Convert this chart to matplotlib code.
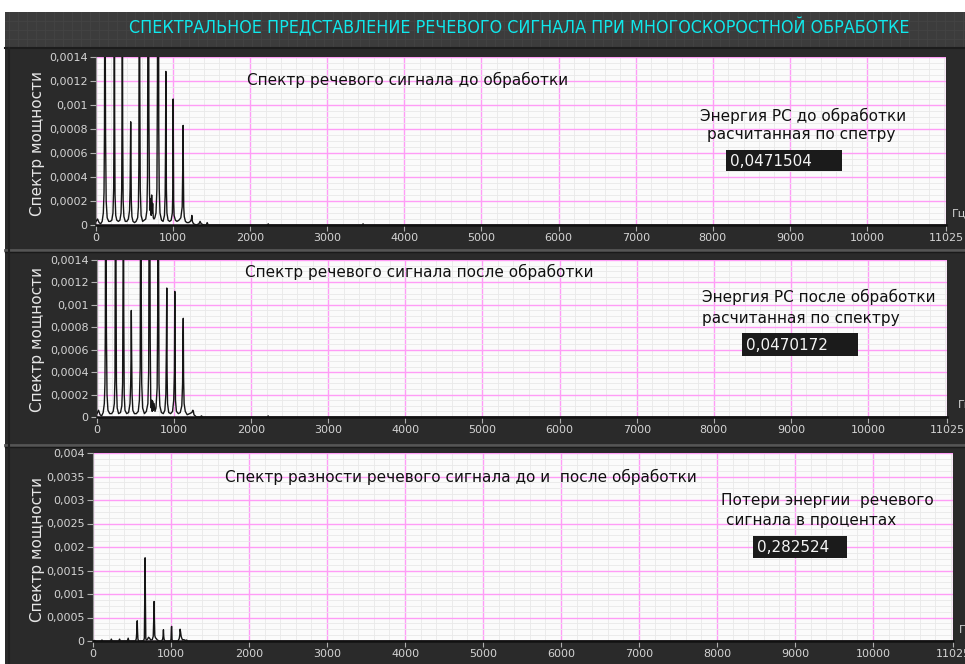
import matplotlib
matplotlib.use("Agg")
import matplotlib.pyplot as plt
from matplotlib.patches import Rectangle
from matplotlib.lines import Line2D
from matplotlib.ticker import MultipleLocator, FixedLocator, FuncFormatter

# ---------------- data ----------------
title_text = "СПЕКТРАЛЬНОЕ ПРЕДСТАВЛЕНИЕ РЕЧЕВОГО СИГНАЛА ПРИ МНОГОСКОРОСТНОЙ ОБРАБОТКЕ"
y_axis_label = "Спектр мощности"
x_unit = "Гц"
x_ticks = [0, 1000, 2000, 3000, 4000, 5000, 6000, 7000, 8000, 9000, 10000, 11025]
x_max = 11025

# power spectrum before processing (Hz, power)
freq_before = [0, 20, 40, 60, 80, 95, 104, 110, 114, 117, 120, 124, 132, 145, 165, 185,
               205, 220, 229, 234, 238, 242, 247, 256, 270, 290, 310, 325, 333, 338, 342,
               346, 352, 362, 380, 400, 420, 435, 442, 447, 450, 453, 458, 466, 480, 500,
               520, 540, 550, 556, 560, 564, 568, 574, 585, 605, 625, 645, 660, 668, 673,
               677, 681, 686, 694, 703, 710, 716, 722, 728, 735, 743, 752, 763, 778, 790,
               797, 801, 806, 810, 814, 820, 830, 850, 870, 888, 897, 902, 906, 909, 913,
               920, 935, 955, 975, 990, 997, 1001, 1004, 1007, 1013, 1030, 1050, 1075,
               1100, 1118, 1126, 1130, 1134, 1138, 1145, 1160, 1180, 1200, 1225, 1238,
               1243, 1250, 1265, 1300, 1335, 1350, 1365, 1400, 1430, 1442, 1455, 1520,
               2200, 2225, 2234, 2243, 2300, 3440, 3458, 3464, 3470, 3500, 11025]
power_before = [0.00003, 0.00005, 0.00002, 0.00001, 0.00003, 0.00010, 0.00027, 0.00080,
                0.0022, 0.0030, 0.0016, 0.00075, 0.00020, 0.00006, 0.00003, 0.00003,
                0.00004, 0.00010, 0.00030, 0.0009, 0.0030, 0.0009, 0.00025, 0.00008,
                0.00004, 0.00003, 0.00004, 0.00010, 0.00030, 0.00096, 0.0026, 0.0008,
                0.00020, 0.00007, 0.00003, 0.00003, 0.00005, 0.00012, 0.00030, 0.00060,
                0.00086, 0.00057, 0.00020, 0.00007, 0.00003, 0.00002, 0.00003, 0.00006,
                0.00015, 0.00050, 0.0020, 0.0032, 0.0012, 0.00030, 0.00008, 0.00003,
                0.00004, 0.00005, 0.00012, 0.00040, 0.0018, 0.0035, 0.0028, 0.0009,
                0.00026, 0.00012, 0.00022, 0.00008, 0.00025, 0.00010, 0.00018, 0.00006,
                0.00005, 0.00006, 0.00010, 0.00030, 0.0012, 0.0030, 0.0034, 0.0028,
                0.0008, 0.00030, 0.00010, 0.00004, 0.00003, 0.00008, 0.00025, 0.00066,
                0.00128, 0.0009, 0.00030, 0.00010, 0.00004, 0.00003, 0.00004, 0.00010,
                0.00030, 0.00105, 0.00055, 0.00020, 0.00008, 0.00004, 0.00003, 0.00004,
                0.00006, 0.00015, 0.00052, 0.00083, 0.00040, 0.00015, 0.00007, 0.00003,
                0.00002, 0.00002, 0.00003, 0.00005, 0.00008, 0.00003, 0.00001, 0.0,
                0.00001, 0.00003, 0.00001, 0.0, 0.0, 0.00002, 0.0, 0.0,
                0.0, 0.0, 0.00001, 0.0, 0.0, 0.0, 0.0, 0.00001, 0.0, 0.0, 0.0]

# power spectrum after processing (Hz, power)
freq_after = [0, 20, 40, 60, 80, 95, 103, 108, 112, 115, 118, 122, 130, 142, 165, 190,
              210, 225, 233, 238, 243, 247, 252, 262, 280, 305, 322, 332, 338, 343, 347,
              353, 363, 385, 410, 428, 437, 441, 445, 449, 455, 465, 485, 510, 535, 550,
              560, 565, 570, 574, 580, 592, 615, 640, 660, 670, 676, 680, 684, 690, 697,
              703, 710, 716, 722, 730, 740, 752, 765, 780, 787, 791, 795, 799, 804, 815,
              835, 860, 880, 893, 900, 905, 909, 915, 930, 955, 980, 995, 1004, 1009,
              1013, 1018, 1030, 1055, 1080, 1100, 1110, 1115, 1119, 1123, 1130, 1145,
              1170, 1200, 1230, 1243, 1250, 1258, 1290, 1340, 1355, 1370, 1450, 2210,
              2220, 2230, 2300, 11025]
power_after = [0.00003, 0.00006, 0.00002, 0.00001, 0.00004, 0.00012, 0.00030, 0.0008,
               0.0025, 0.0032, 0.0015, 0.00077, 0.00020, 0.00006, 0.00003, 0.00003,
               0.00005, 0.00012, 0.00035, 0.0018, 0.0034, 0.00125, 0.00030, 0.00008,
               0.00003, 0.00004, 0.00010, 0.00030, 0.0013, 0.0026, 0.00093, 0.00020,
               0.00006, 0.00003, 0.00004, 0.00012, 0.00030, 0.00051, 0.00095, 0.00059,
               0.00020, 0.00006, 0.00003, 0.00003, 0.00005, 0.00015, 0.00044, 0.0021,
               0.0033, 0.0011, 0.00030, 0.00008, 0.00003, 0.00005, 0.00012, 0.00040,
               0.0020, 0.0036, 0.0024, 0.0007, 0.00015, 0.00008, 0.00015, 0.00005,
               0.00014, 0.00006, 0.00012, 0.00005, 0.00008, 0.00026, 0.0009, 0.0030,
               0.0034, 0.00127, 0.00030, 0.00010, 0.00004, 0.00003, 0.00006, 0.00020,
               0.00063, 0.00115, 0.00040, 0.00012, 0.00004, 0.00003, 0.00005, 0.00015,
               0.00040, 0.00112, 0.00057, 0.00015, 0.00005, 0.00003, 0.00004, 0.00010,
               0.00030, 0.00069, 0.00088, 0.00035, 0.00012, 0.00005, 0.00002, 0.00003,
               0.00004, 0.00006, 0.00005, 0.00002, 0.0, 0.0, 0.00001, 0.0, 0.0, 0.0,
               0.00001, 0.0, 0.0, 0.0]

# power spectrum of the difference signal (Hz, power)
freq_diff = [0, 20, 40, 100, 115, 125, 225, 235, 245, 330, 341, 350, 440, 451, 460, 545,
             555, 562, 567, 571, 576, 585, 620, 650, 658, 663, 668, 672, 677, 685, 700,
             712, 725, 740, 760, 772, 778, 783, 787, 792, 800, 812, 825, 850, 880, 893,
             898, 903, 907, 912, 925, 990, 1000, 1005, 1009, 1013, 1020, 1090, 1105,
             1112, 1117, 1122, 1130, 1140, 1150, 1165, 1180, 1200, 1215, 11025]
power_diff = [0.0, 0.00001, 0.0, 0.0, 0.00002, 0.0, 0.0, 0.00004, 0.0, 0.0, 0.00004, 0.0,
              0.0, 0.00006, 0.0, 0.0, 0.00005, 0.00021, 0.00043, 0.00021, 0.00004, 0.0,
              0.0, 0.00001, 0.00006, 0.00087, 0.00177, 0.00087, 0.00005, 0.00002,
              0.00004, 0.00008, 0.00006, 0.00002, 0.00003, 0.00010, 0.00043, 0.00084,
              0.00045, 0.00012, 0.00007, 0.00005, 0.00002, 0.0, 0.0, 0.00004, 0.00010,
              0.00024, 0.00010, 0.00003, 0.0, 0.0, 0.00003, 0.00030, 0.00031, 0.00003,
              0.0, 0.0, 0.00005, 0.00012, 0.00025, 0.00020, 0.00010, 0.00005, 0.00002,
              0.00003, 0.00001, 0.00002, 0.0, 0.0]

panel_titles = ["Спектр речевого сигнала до обработки",
                "Спектр речевого сигнала после обработки",
                "Спектр разности речевого сигнала до и  после обработки"]
info_lines = [["Энергия РС до обработки", "расчитанная по спетру"],
              ["Энергия РС после обработки", "расчитанная по спектру"],
              ["Потери энергии  речевого", "сигнала в процентах"]]
info_values = ["0,0471504", "0,0470172", "0,282524"]
y_max = [0.0014, 0.0014, 0.004]
y_step = [0.0002, 0.0002, 0.0005]

# ---------------- layout helpers (pixel -> figure fraction) ----------------
W, H = 965, 664
fig = plt.figure(figsize=(W / 100, H / 100), dpi=100, facecolor="white")


def fx(x):
    return x / W


def fy(y):
    return 1 - y / H


def px_rect(x0, y0, x1, y1, **kw):
    fig.patches.append(Rectangle((fx(x0), fy(y1)), (x1 - x0) / W, (y1 - y0) / H,
                                 transform=fig.transFigure, **kw))


def px_line(x0, y0, x1, y1, **kw):
    fig.lines.append(Line2D([fx(x0), fx(x1)], [fy(y0), fy(y1)],
                            transform=fig.transFigure, **kw))


# dark front panel
px_rect(5, 12, W, H, facecolor="#2a2a2a", edgecolor="none", zorder=-3)
# title bar with its faint grid
px_rect(5, 12, W, 48, facecolor="#3c3c3c", edgecolor="none", zorder=-3)
for gx in range(9, W, 9):
    px_line(gx, 12, gx, 48, color="#444444", lw=0.6, zorder=-2)
for gy in (21, 30, 39):
    px_line(5, gy, W, gy, color="#444444", lw=0.6, zorder=-2)
px_line(5, 48, W, 48, color="#1c1c1c", lw=1.5, zorder=-1)
# separators between the three graph panels
for sy in (250, 445):
    px_line(5, sy, W, sy, color="#555555", lw=2.0, zorder=-1)
    px_line(5, sy + 2, W, sy + 2, color="#1a1a1a", lw=1.0, zorder=-1)
px_line(9, 48, 9, H, color="#222222", lw=1.5, zorder=-1)

# title, fitted to the width of the bar text
title = fig.text(fx(519), fy(27.5), title_text, color="#10e8ec", fontsize=13.5,
                 family="DejaVu Sans", fontstretch="condensed", ha="center", va="center")
renderer = fig.canvas.get_renderer()
tw = title.get_window_extent(renderer).width
title.set_fontsize(13.5 * min(1.0, 778.0 / tw))

# plot areas in pixels: left, top, right, bottom
boxes = [(96, 57, 946, 225), (97, 260, 947, 417), (93, 453, 953, 641)]
series = [(freq_before, power_before), (freq_after, power_after), (freq_diff, power_diff)]
ylabel_y = [143, 340, 550]
title_pos = [(247, 80), (245, 272), (225, 477)]
info_pos = [[(700, 116), (707, 134)], [(702, 297), (702, 318)], [(721, 500), (726, 521)]]
value_box = [(726, 150, 842, 171), (742, 333, 858, 356), (753, 536, 847, 558)]
unit_pos = [(952, 214), (958, 405), (959, 630)]


def comma_fmt(v, _pos):
    if abs(v) < 1e-12:
        return "0"
    return ("%.4f" % v).rstrip("0").replace(".", ",")


for i, (l, t, r, b) in enumerate(boxes):
    ax = fig.add_axes([fx(l), fy(b), (r - l) / W, (b - t) / H])
    ax.set_zorder(2)
    ax.set_facecolor("#fbfbfb")
    f, p = series[i]
    ax.plot(f, p, color="#151515", lw=1.0, zorder=3)
    ax.set_xlim(0, x_max)
    ax.set_ylim(0, y_max[i])

    ax.xaxis.set_major_locator(FixedLocator(x_ticks))
    ax.xaxis.set_minor_locator(MultipleLocator(200))
    ax.yaxis.set_major_locator(MultipleLocator(y_step[i]))
    ax.yaxis.set_minor_locator(MultipleLocator(y_step[i] / 4))
    ax.yaxis.set_major_formatter(FuncFormatter(comma_fmt))

    ax.grid(which="minor", color="#e9e9e9", lw=0.6, zorder=0)
    ax.grid(which="major", color="#ff9cf6", lw=1.0, zorder=1)
    ax.set_axisbelow(True)

    for side in ("top", "right"):
        ax.spines[side].set_visible(False)
    ax.spines["bottom"].set_color("#111111")
    ax.spines["bottom"].set_linewidth(1.8)
    ax.spines["left"].set_color("#9a9a9a")
    ax.spines["left"].set_linewidth(0.8)

    ax.tick_params(which="major", direction="out", length=4, width=0.8,
                   color="#b0b0b0", labelcolor="#d4d4d4", labelsize=8, pad=2)
    ax.tick_params(which="minor", length=0)

    fig.text(fx(38), fy(ylabel_y[i]), y_axis_label, rotation=90, color="#e6e6e6",
             fontsize=11, ha="center", va="center")
    fig.text(fx(unit_pos[i][0]), fy(unit_pos[i][1]), x_unit, color="#d4d4d4",
             fontsize=8, ha="left", va="center")

    tx, ty = title_pos[i]
    fig.text(fx(tx), fy(ty), panel_titles[i], color="#101010", fontsize=11,
             ha="left", va="center", zorder=5)
    for (ix, iy), line in zip(info_pos[i], info_lines[i]):
        fig.text(fx(ix), fy(iy), line, color="#101010", fontsize=11,
                 ha="left", va="center", zorder=5)
    bx0, by0, bx1, by1 = value_box[i]
    px_rect(bx0, by0, bx1, by1, facecolor="#1b1b1b", edgecolor="none", zorder=6)
    fig.text(fx(bx0 + 4), fy((by0 + by1) / 2 + 0.5), info_values[i], color="#f4f4f4",
             fontsize=11, ha="left", va="center", zorder=7)

fig.savefig("out.png", dpi=100, facecolor="white")
